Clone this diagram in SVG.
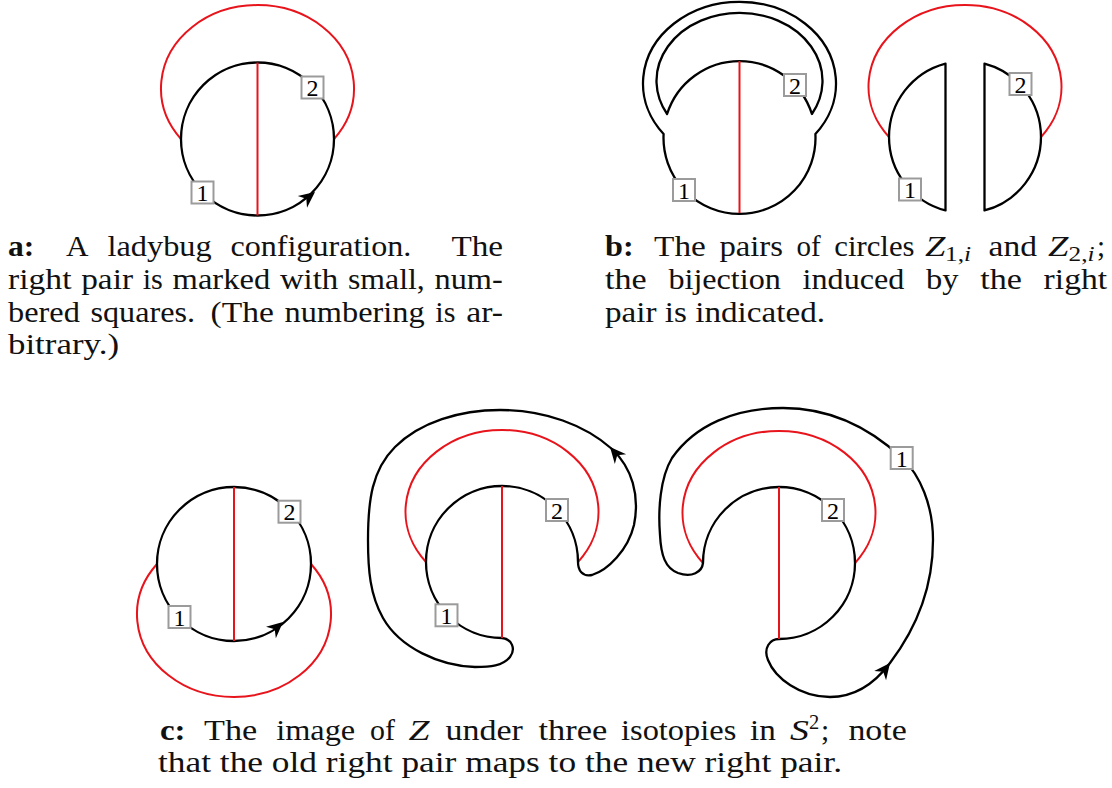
<svg xmlns="http://www.w3.org/2000/svg" xmlns:xlink="http://www.w3.org/1999/xlink" width="1112" height="788" viewBox="0 0 1112 788">
<style>
.bk{fill:none;stroke:#000;stroke-width:2.3;stroke-linejoin:round}
.rd{fill:none;stroke:#e8141c;stroke-width:2}
.box{fill:#fff;stroke:#9b9b9b;stroke-width:2}
.num{font-family:"Liberation Serif",serif;font-size:24px;text-anchor:middle;fill:#000}
.cap{font-family:"Liberation Serif",serif;font-size:29px;fill:#111}
.capc{font-size:29.5px}
.b{font-weight:bold}
.i{font-style:italic}
.sub{font-size:20.5px}
</style>
<defs>
<path id="ah" d="M0 0 L-16 -7.5 L-11 0 L-16 7.5 Z" fill="#000"/>
<rect id="bx" x="-11" y="-11" width="22" height="22" class="box"/>
</defs>
<rect width="1112" height="788" fill="#fff"/>

<g id="panel-a">
<path class="rd" d="M181 139 A96.5 83.2 0 1 1 334 139"/>
<circle class="bk" cx="257.5" cy="139" r="76.5"/>
<line class="rd" x1="257.5" y1="62.5" x2="257.5" y2="215.5"/>
<use xlink:href="#ah" transform="translate(315 192) rotate(-38)"/>
<g id="a-sq1" transform="translate(202.5 192.5)"><use xlink:href="#bx"/><text class="num" y="8.5">1</text></g>
<g id="a-sq2" transform="translate(312.5 87.5)"><use xlink:href="#bx"/><text class="num" y="8.5">2</text></g>
</g>

<g id="panel-b-left">
<path class="bk" d="M663.6 134 A76 76 0 1 0 815.4 134 A96.5 81.7 0 1 0 663.6 134 Z"/>
<path class="bk" d="M667.1 114 A76 76 0 0 1 811.9 114 A83 67.9 0 1 0 667.1 114 Z"/>
<line class="rd" x1="739.5" y1="61" x2="739.5" y2="213"/>
<g id="bl-sq2" transform="translate(795 85)"><use xlink:href="#bx"/><text class="num" y="8.5">2</text></g>
<g id="bl-sq1" transform="translate(684 190)"><use xlink:href="#bx"/><text class="num" y="8.5">1</text></g>
</g>

<g id="panel-b-right">
<path class="rd" d="M889 137 A96.5 81.7 0 1 1 1041 137"/>
<path class="bk" d="M945.5 63.55 A76 76 0 0 0 945.5 210.45 Z"/>
<path class="bk" d="M984.5 63.55 A76 76 0 0 1 984.5 210.45 Z"/>
<g id="br-sq2" transform="translate(1020.5 84)"><use xlink:href="#bx"/><text class="num" y="8.5">2</text></g>
<g id="br-sq1" transform="translate(910 189.5)"><use xlink:href="#bx"/><text class="num" y="8.5">1</text></g>
</g>

<g id="panel-c-left">
<path class="rd" d="M157 564 A97 82.7 0 1 0 311 564"/>
<circle class="bk" cx="234" cy="564" r="77"/>
<line class="rd" x1="234" y1="487" x2="234" y2="641"/>
<use xlink:href="#ah" transform="translate(283 622) rotate(-41)"/>
<g id="cl-sq2" transform="translate(289.5 511.7)"><use xlink:href="#bx"/><text class="num" y="8.5">2</text></g>
<g id="cl-sq1" transform="translate(179.5 617)"><use xlink:href="#bx"/><text class="num" y="8.5">1</text></g>
</g>

<g id="panel-c-middle">
<path class="rd" d="M426 562 A96.5 81.7 0 1 1 578 562"/>
<path class="bk" d="M578 562 A76 76 0 1 0 502 638 C512 639 516 649 510 657 C503 666 490 667 475 667 C440 666 400 648 383 618 C370 595 368 570 368 540 C368 500 372 470 395 447 C420 422 460 410 500 410 C545 410 585 425 612 449 C632 468 640 495 634 525 C628 550 608 570 592 575 C582 577 578 570 578 562 Z"/>
<line class="rd" x1="502" y1="486" x2="502" y2="638"/>
<use xlink:href="#ah" transform="translate(610 447) rotate(-131)"/>
<g id="cm-sq2" transform="translate(557 510)"><use xlink:href="#bx"/><text class="num" y="8.5">2</text></g>
<g id="cm-sq1" transform="translate(446.5 615.3)"><use xlink:href="#bx"/><text class="num" y="8.5">1</text></g>
</g>

<g id="panel-c-right">
<path class="rd" d="M703 563 A96.5 81.7 0 1 1 855 563"/>
<path class="bk" d="M703 563 A76 76 0 1 1 779 639 C770 639 763 648 768 660 C775 678 800 697 830 697 C855 697 875 683 890 663 C915 630 933 590 933 540 C933 505 920 475 902 458 C870 428 830 408 783 408 C735 408 695 425 672 458 C660 478 658 510 660 535 C661 555 665 568 678 573 C692 578 702 572 703 563 Z"/>
<line class="rd" x1="779" y1="487" x2="779" y2="639"/>
<use xlink:href="#ah" transform="translate(890 663) rotate(-52)"/>
<g id="cr-sq2" transform="translate(833 510)"><use xlink:href="#bx"/><text class="num" y="8.5">2</text></g>
<g id="cr-sq1" transform="translate(901.7 458)"><use xlink:href="#bx"/><text class="num" y="8.5">1</text></g>
</g>

<g id="connectors"></g>

<g id="caption-a" class="cap">
<text y="256"><tspan class="b" x="8" textLength="26.3" lengthAdjust="spacingAndGlyphs">a:</tspan><tspan x="66.1" textLength="22.5" lengthAdjust="spacingAndGlyphs">A</tspan><tspan x="107.5" textLength="104.2" lengthAdjust="spacingAndGlyphs">ladybug</tspan><tspan x="230.4" textLength="181" lengthAdjust="spacingAndGlyphs">configuration.</tspan><tspan x="451.4" textLength="51.7" lengthAdjust="spacingAndGlyphs">The</tspan></text>
<text y="288.5"><tspan x="8" textLength="63.5" lengthAdjust="spacingAndGlyphs">right</tspan><tspan x="81.2" textLength="51.8" lengthAdjust="spacingAndGlyphs">pair</tspan><tspan x="142.7" textLength="20.2" lengthAdjust="spacingAndGlyphs">is</tspan><tspan x="172.6" textLength="97.6" lengthAdjust="spacingAndGlyphs">marked</tspan><tspan x="279.9" textLength="58.4" lengthAdjust="spacingAndGlyphs">with</tspan><tspan x="348" textLength="76.8" lengthAdjust="spacingAndGlyphs">small,</tspan><tspan x="434.5" textLength="68.3" lengthAdjust="spacingAndGlyphs">num-</tspan></text>
<text y="321.5"><tspan x="8" textLength="71.8" lengthAdjust="spacingAndGlyphs">bered</tspan><tspan x="90.5" textLength="104.6" lengthAdjust="spacingAndGlyphs">squares.</tspan><tspan x="210.5" textLength="63.3" lengthAdjust="spacingAndGlyphs">(The</tspan><tspan x="284.5" textLength="140.1" lengthAdjust="spacingAndGlyphs">numbering</tspan><tspan x="435.3" textLength="20.2" lengthAdjust="spacingAndGlyphs">is</tspan><tspan x="466.2" textLength="36.8" lengthAdjust="spacingAndGlyphs">ar-</tspan></text>
<text x="8" y="354" textLength="111" lengthAdjust="spacingAndGlyphs">bitrary.)</text>
</g>

<g id="caption-b" class="cap">
<text y="256"><tspan class="b" x="605" textLength="28.7" lengthAdjust="spacingAndGlyphs">b:</tspan><tspan x="654.1" textLength="51.7" lengthAdjust="spacingAndGlyphs">The</tspan><tspan x="719.4" textLength="63.6" lengthAdjust="spacingAndGlyphs">pairs</tspan><tspan x="796.5" textLength="24.2" lengthAdjust="spacingAndGlyphs">of</tspan><tspan x="834.3" textLength="80.2" lengthAdjust="spacingAndGlyphs">circles</tspan><tspan class="i" x="925" textLength="20.4" lengthAdjust="spacingAndGlyphs">Z</tspan><tspan class="sub" x="945" dy="4.5" textLength="26" lengthAdjust="spacingAndGlyphs">1,<tspan class="i">i</tspan></tspan><tspan x="988.5" dy="-4.5" textLength="48.4" lengthAdjust="spacingAndGlyphs">and</tspan><tspan class="i" x="1048" textLength="20.4" lengthAdjust="spacingAndGlyphs">Z</tspan><tspan class="sub" x="1068.5" dy="4.5" textLength="26" lengthAdjust="spacingAndGlyphs">2,<tspan class="i">i</tspan></tspan><tspan x="1097" dy="-4.5">;</tspan></text>
<text y="288.5"><tspan x="605" textLength="41.7" lengthAdjust="spacingAndGlyphs">the</tspan><tspan x="668.4" textLength="112.5" lengthAdjust="spacingAndGlyphs">bijection</tspan><tspan x="802.6" textLength="101.7" lengthAdjust="spacingAndGlyphs">induced</tspan><tspan x="926" textLength="32.5" lengthAdjust="spacingAndGlyphs">by</tspan><tspan x="980.2" textLength="41.7" lengthAdjust="spacingAndGlyphs">the</tspan><tspan x="1043.6" textLength="63.5" lengthAdjust="spacingAndGlyphs">right</tspan></text>
<text x="605" y="321.5" textLength="220" lengthAdjust="spacingAndGlyphs">pair is indicated.</text>
</g>

<g id="caption-c" class="cap capc">
<text y="740"><tspan class="b" x="160" textLength="25.6" lengthAdjust="spacingAndGlyphs">c:</tspan><tspan x="204" textLength="53.2" lengthAdjust="spacingAndGlyphs">The</tspan><tspan x="276.2" textLength="79" lengthAdjust="spacingAndGlyphs">image</tspan><tspan x="370" textLength="24.9" lengthAdjust="spacingAndGlyphs">of</tspan><tspan class="i" x="408.5" textLength="21" lengthAdjust="spacingAndGlyphs">Z</tspan><tspan x="445.4" textLength="77.4" lengthAdjust="spacingAndGlyphs">under</tspan><tspan x="538.5" textLength="68.8" lengthAdjust="spacingAndGlyphs">three</tspan><tspan x="621" textLength="115.3" lengthAdjust="spacingAndGlyphs">isotopies</tspan><tspan x="750" textLength="25.8" lengthAdjust="spacingAndGlyphs">in</tspan><tspan class="i" x="790" textLength="18.9" lengthAdjust="spacingAndGlyphs">S</tspan><tspan class="sub" x="809" dy="-11">2</tspan><tspan x="821" dy="11">;</tspan><tspan x="848.4" textLength="58.4" lengthAdjust="spacingAndGlyphs">note</tspan></text>
<text x="158" y="772" textLength="684" lengthAdjust="spacingAndGlyphs">that the old right pair maps to the new right pair.</text>
</g>
</svg>
